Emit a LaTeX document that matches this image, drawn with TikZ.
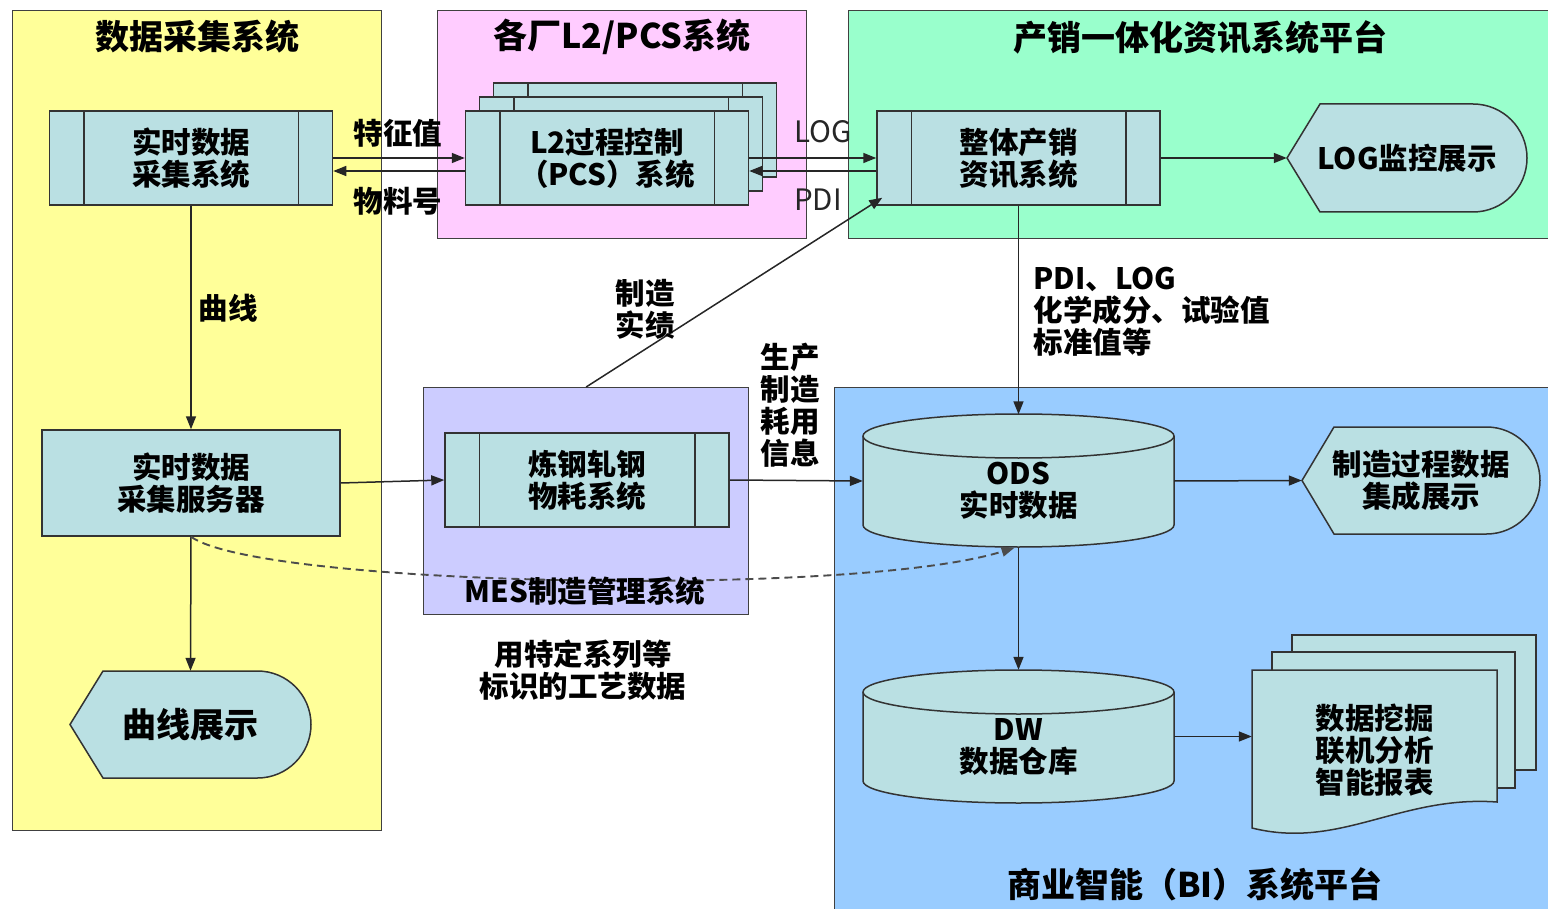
\documentclass[tikz,border=0pt]{standalone}
\usepackage{fontspec}
\newfontfamily\cjk{Noto Sans CJK SC}
\usetikzlibrary{arrows.meta}
\definecolor{acqbg}{HTML}{FFFF99}
\definecolor{pcsbg}{HTML}{FFCCFF}
\definecolor{erpbg}{HTML}{99FFCC}
\definecolor{mesbg}{HTML}{CCCCFF}
\definecolor{bibg}{HTML}{99CCFF}
\definecolor{boxfill}{HTML}{BAE0E3}
\tikzset{
  panel/.style={draw=black!75, line width=1.3pt, inner sep=0pt, anchor=north west},
  proc/.style={draw=black!80, fill=boxfill, line width=1.5pt, minimum width=283pt, minimum height=94pt, inner sep=0pt},
  shapebox/.style={draw=black!80, fill=boxfill, line width=1.5pt},
  txt/.style={font=\cjk\bfseries\fontsize{29.5}{32}\selectfont, align=center},
  plaintxt/.style={font=\cjk\fontsize{29.5}{32}\selectfont, text=black!85},
  title/.style={font=\cjk\bfseries\fontsize{34}{38}\selectfont},
  conn/.style={line width=1.5pt, draw=black!85, -{Triangle[length=13pt,width=10pt]}},
}
\begin{document}
\begin{tikzpicture}[x=1pt,y=-1pt]
  \useasboundingbox (0,0) rectangle (1548,909);
  % panels
  \node[panel, fill=acqbg, minimum width=369pt, minimum height=820pt] (acq) at (12,10) {};
  \node[panel, fill=pcsbg, minimum width=369pt, minimum height=228pt] (pcs) at (437,10) {};
  \node[panel, fill=erpbg, minimum width=702pt, minimum height=228pt] (erp) at (848,10) {};
  \node[panel, fill=mesbg, minimum width=325pt, minimum height=227pt] (mes) at (423,387) {};
  \node[panel, fill=bibg, minimum width=716pt, minimum height=524pt] (bi) at (834,387) {};
  \node[title] (acqttl) at (197,37) {数据采集系统};
  \node[title] (pcsttl) at (622,37) {各厂L2/PCS系统};
  \node[title] (erpttl) at (1200,37) {产销一体化资讯系统平台};
  \node[title] (bittl) at (1195,884) {商业智能（BI）系统平台};

  % stacked L2 boxes
  \foreach \n/\d in {l2back/28, l2mid/14} {
    \node[proc] (\n) at (607+\d,158-\d) {};
    \draw[line width=1.5pt, black!80]
      ([xshift=35pt]\n.north west) -- ([xshift=35pt]\n.south west)
      ([xshift=-35pt]\n.north east) -- ([xshift=-35pt]\n.south east);
  }
  \node[proc, txt] (l2) at (607,158) {L2过程控制\\（PCS）系统};
  \node[proc, txt] (acqsys) at (191,158) {实时数据\\采集系统};
  \node[proc, txt] (whole) at (1018.5,158) {整体产销\\资讯系统};
  \node[proc, txt, minimum width=284pt] (mat) at (587,480) {炼钢轧钢\\物耗系统};
  \foreach \n in {acqsys, l2, whole, mat}
    \draw[line width=1.5pt, black!80]
      ([xshift=35pt]\n.north west) -- ([xshift=35pt]\n.south west)
      ([xshift=-35pt]\n.north east) -- ([xshift=-35pt]\n.south east);
  \node[shapebox, txt, minimum width=298pt, minimum height=106pt] (srv) at (191,483) {实时数据\\采集服务器};

  % display shapes
  \draw[shapebox] (1287,158) -- (1320,104) -- (1473,104)
    arc[start angle=-90, end angle=90, radius=54] -- (1320,212) -- cycle;
  \node[txt, minimum width=240pt, minimum height=108pt, inner sep=0pt] (logshow) at (1407,158) {LOG监控展示};
  \draw[shapebox] (1302,480.5) -- (1334,427) -- (1486.5,427)
    arc[start angle=-90, end angle=90, radius=53.5] -- (1334,534) -- cycle;
  \node[txt, minimum width=238pt, minimum height=107pt, inner sep=0pt] (prodshow) at (1421,480.5) {制造过程数据\\集成展示};
  \draw[shapebox] (70,724.5) -- (103,671) -- (257.5,671)
    arc[start angle=-90, end angle=90, radius=53.5] -- (103,778) -- cycle;
  \node[txt, font=\cjk\bfseries\fontsize{34}{36}\selectfont, minimum width=241pt, minimum height=107pt, inner sep=0pt] (curveshow) at (190.5,724.5) {曲线展示};

  % databases
  \draw[shapebox] (863,436) -- (863,525) arc[start angle=180, end angle=0, x radius=155.5, y radius=22]
    -- (1174,436) arc[start angle=0, end angle=-180, x radius=155.5, y radius=22] -- cycle;
  \draw[line width=1.5pt, black!80] (863,436) arc[start angle=180, end angle=0, x radius=155.5, y radius=22];
  \node[minimum width=311pt, minimum height=133pt, inner sep=0pt] (ods) at (1018.5,481) {};
  \node[txt] (odstxt) at (1018.5,491) {ODS\\实时数据};
  \draw[shapebox] (863,692) -- (863,781) arc[start angle=180, end angle=0, x radius=155.5, y radius=22]
    -- (1174,692) arc[start angle=0, end angle=-180, x radius=155.5, y radius=22] -- cycle;
  \draw[line width=1.5pt, black!80] (863,692) arc[start angle=180, end angle=0, x radius=155.5, y radius=22];
  \node[minimum width=311pt, minimum height=133pt, inner sep=0pt] (dw) at (1018.5,736.5) {};
  \node[txt] (dwtxt) at (1018.5,747) {DW\\数据仓库};

  % documents
  \draw[shapebox] (1292,635) rectangle (1536,770);
  \draw[shapebox] (1272,652) rectangle (1515,788);
  \draw[shapebox] (1252,670) -- (1497,670) -- (1497,802)
    .. controls (1400,795) and (1340,850) .. (1252,828) -- cycle;
  \node[txt, minimum width=245pt, minimum height=160pt, inner sep=0pt] (doc) at (1374.5,750) {数据挖掘\\联机分析\\智能报表};

  % connectors
  \draw[conn] (acqsys.east) -- (l2.west);
  \draw[conn] ([yshift=-13pt]l2.west) -- ([yshift=-13pt]acqsys.east);
  \draw[conn] (l2.east) -- (whole.west);
  \draw[conn] ([yshift=-13pt]whole.west) -- ([yshift=-13pt]l2.east);
  \draw[conn] (whole.east) -- (logshow.west);
  \draw[conn] (acqsys.south) -- (srv.north);
  \draw[conn] (srv.south) -- (curveshow.north);
  \draw[conn] (srv.east) -- (mat.west);
  \draw[conn] (mat.east) -- (ods.west);
  \draw[conn] (ods.east) -- (prodshow.west);
  \draw[conn] (whole.south) -- (ods.north);
  \draw[conn] (ods.south) -- (dw.north);
  \draw[conn] (dw.east) -- (dw.east -| doc.west);
  \draw[conn] (mes.north) -- ([xshift=6pt,yshift=8pt]whole.south west);
  \draw[conn, dashed, dash pattern=on 8pt off 5pt, line width=1.9pt, draw=black!70] (srv.south)
    .. controls +(70,50) and +(-160,50) .. ([xshift=-4pt]ods.south);

  % labels
  \node[txt] (mesttl) at (585,591) {MES制造管理系统};
  \node[txt] (featlbl) at (398,133) {特征值};
  \node[txt] (matno) at (398,201) {物料号};
  \node[plaintxt] (loglbl) at (823,132) {LOG};
  \node[plaintxt] (pdilbl) at (818,200) {PDI};
  \node[txt] (curvelbl) at (228,308) {曲线};
  \node[txt] (actlbl) at (645,309) {制造\\实绩};
  \node[txt] (uselbl) at (790,405) {生产\\制造\\耗用\\信息};
  \node[txt, align=left, anchor=west] (odsin) at (1030,312) {PDI、LOG\\化学成分、试验值\\标准值等};
  \node[txt] (tagged) at (583,670) {用特定系列等\\标识的工艺数据};
\end{tikzpicture}
\end{document}
